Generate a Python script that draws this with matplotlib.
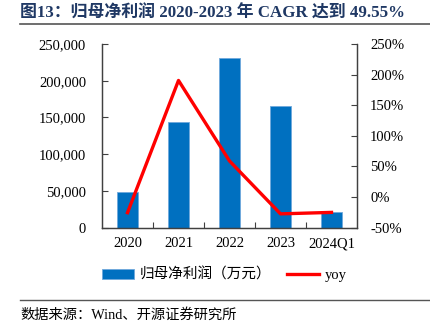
import matplotlib
matplotlib.use("Agg")
import matplotlib.pyplot as plt
from matplotlib.ticker import FuncFormatter, FixedLocator
from matplotlib.lines import Line2D
from matplotlib.patches import Patch

categories = ["2020", "2021", "2022", "2023", "2024Q1"]
profit = [49000, 144500, 231000, 165500, 21800]
yoy = [-25.5, 190.5, 59.0, -27.4, -25.0]
left_ticks = [0, 50000, 100000, 150000, 200000, 250000]
right_ticks = [-50, 0, 50, 100, 150, 200, 250]

FONT = ["Liberation Serif", "Noto Sans CJK SC"]
plt.rcParams["font.family"] = FONT

fig = plt.figure(figsize=(4.30, 3.31), dpi=100)
ax = fig.add_axes([102/430, 1-227.7/331, (357-102)/430, (227.7-44)/331])
ax2 = ax.twinx()

x = list(range(len(categories)))
ax.bar(x, profit, width=0.41, color="#0070C0", edgecolor="#6FA8DC", linewidth=0.6, zorder=2)
ax2.plot(x, yoy, color="#FF0000", lw=2.4, zorder=3)

ax.set_xlim(-0.5, len(categories) - 0.5)
ax.set_ylim(0, 250000)
ax2.set_ylim(-50, 250)
ax.set_yticks(left_ticks)
ax2.set_yticks(right_ticks)
ax.yaxis.set_major_formatter(FuncFormatter(lambda v, p: f"{int(v):,}"))
ax2.yaxis.set_major_formatter(FuncFormatter(lambda v, p: f"{int(v)}%"))
ax.set_xticks(x)
ax.set_xticklabels(categories)
ax.xaxis.set_minor_locator(FixedLocator([i + 0.5 for i in x[:-1]]))

for a in (ax, ax2):
    a.spines["top"].set_visible(False)
    for s in ("left", "right", "bottom"):
        a.spines[s].set_color("#404040")
        a.spines[s].set_linewidth(0.9)
ax.tick_params(axis="y", direction="in", length=4, width=0.8, color="#404040", labelsize=10.5, pad=11.5)
ax2.tick_params(axis="y", direction="in", length=4, width=0.8, color="#404040", labelsize=10.5, pad=9.5)
ax.tick_params(axis="x", which="major", length=0, labelsize=10.5, pad=7)
ax.tick_params(axis="x", which="minor", direction="in", length=4, width=0.8, color="#404040")

handles = [Patch(facecolor="#0070C0", edgecolor="#6FA8DC", linewidth=0.6),
           Line2D([0], [0], color="#FF0000", lw=2.4)]
fig.legend(handles, ["归母净利润（万元）", "yoy"], loc="center", bbox_to_anchor=(0.522, 1-275/331),
           ncol=2, frameon=False, fontsize=10.5, handlelength=2.2, handleheight=0.7,
           columnspacing=1.1, handletextpad=0.4)

fig.text(20/430, 1-14/331, "图13：归母净利润 2020-2023 年 CAGR 达到 49.55%", fontsize=12.2,
         fontweight="bold", color="#1F3864", va="center", ha="left")
fig.add_artist(Line2D([20/430, 1], [1-23.5/331, 1-23.5/331], color="#555555", lw=1.2))
fig.add_artist(Line2D([20/430, 1], [1-300/331, 1-300/331], color="#555555", lw=1.0))
fig.text(20/430, 1-315/331, "数据来源：Wind、开源证券研究所", fontsize=10.3, va="center", ha="left")

fig.savefig("out.png", dpi=100)
